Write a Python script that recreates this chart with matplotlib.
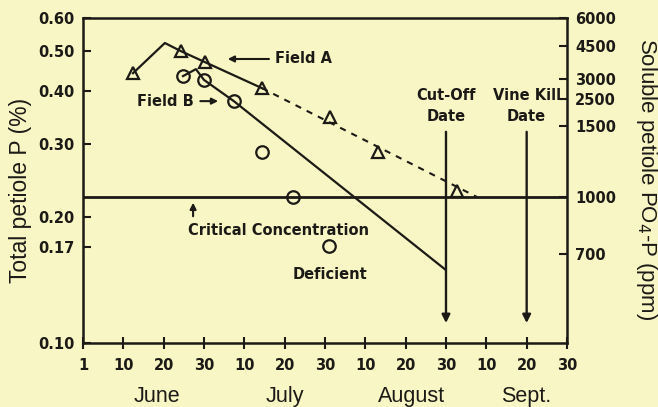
import numpy as np
import matplotlib
matplotlib.use("Agg")
import matplotlib.pyplot as plt

# x is measured in tick steps: 0 = June 1, 1 = June 10, 2 = June 20, 3 = June 30, 4 = July 10 ...
XTICK_LABELS = ["1", "10", "20", "30", "10", "20", "30", "10", "20", "30", "10", "20", "30"]
MONTHS = ["June", "July", "August", "Sept."]
MONTH_POS = [1.83, 5.0, 8.15, 11.0]

# Field A (triangles), total petiole P (%)
a_x = [1.24, 2.43, 3.02, 4.44, 6.12, 7.31, 9.27]
a_y = [0.442, 0.499, 0.470, 0.407, 0.347, 0.286, 0.231]
a_line_x = [1.24, 2.03, 2.43, 3.02, 4.44]
a_line_y = [0.442, 0.522, 0.499, 0.470, 0.407]
a_dash_x = [4.44, 9.77]
a_dash_y = [0.407, 0.2235]

# Field B (circles)
b_x = [2.48, 3.00, 3.74, 4.44, 5.21, 6.10]
b_y = [0.435, 0.426, 0.379, 0.286, 0.2235, 0.171]
b_line_x = [2.48, 2.80, 3.00, 3.74, 8.98]
b_line_y = [0.435, 0.452, 0.426, 0.379, 0.150]

critical = 0.2235
cutoff_x = 9.0
vinekill_x = 11.0

left_ticks = [0.10, 0.17, 0.20, 0.30, 0.40, 0.50, 0.60]
right_labels = ["6000", "4500", "3000", "2500", "1500", "1000", "700"]
right_pos = [0.600, 0.513, 0.428, 0.383, 0.331, 0.2235, 0.163]

BG = "#f8f6c4"
INK = "#1c1a16"
BOLD_FONT = ["DejaVu Sans"]

plt.rcParams.update({"font.family": ["Liberation Sans", "DejaVu Sans"]})

fig = plt.figure(figsize=(6.58, 4.07), dpi=100, facecolor=BG)
ax = fig.add_axes([0.1261, 0.157, 0.7356, 0.7995], facecolor=BG)

ax.set_yscale("log")
ax.set_ylim(0.10, 0.60)
ax.set_xlim(0, 12)

# Field A
ax.plot(a_line_x, a_line_y, "-", color=INK, lw=1.6)
ax.plot(a_dash_x, a_dash_y, "--", color=INK, lw=1.5, dashes=(3, 3))
ax.plot(a_x, a_y, "^", ms=9, mfc="none", mec=INK, mew=1.6)

# Field B
ax.plot(b_line_x, b_line_y, "-", color=INK, lw=1.6)
ax.plot(b_x, b_y, "o", ms=9, mfc="none", mec=INK, mew=1.6)

# critical concentration
ax.axhline(critical, color=INK, lw=2)

# cut-off / vine kill arrows
for xv in (cutoff_x, vinekill_x):
    ax.annotate("", xy=(xv, 0.110), xytext=(xv, 0.325),
                arrowprops=dict(arrowstyle="-|>", color=INK, lw=1.7, mutation_scale=12))

bold = dict(fontsize=10.5, fontweight="bold", color=INK, family=BOLD_FONT)
ax.text(cutoff_x, 0.390, "Cut-Off", ha="center", va="center", **bold)
ax.text(cutoff_x, 0.349, "Date", ha="center", va="center", **bold)
ax.text(vinekill_x, 0.390, "Vine Kill", ha="center", va="center", **bold)
ax.text(vinekill_x, 0.349, "Date", ha="center", va="center", **bold)

ax.text(4.75, 0.478, "Field A", ha="left", va="center", **bold)
ax.annotate("", xy=(3.52, 0.478), xytext=(4.68, 0.478),
            arrowprops=dict(arrowstyle="-|>", color=INK, lw=1.5, mutation_scale=9))
ax.text(1.33, 0.379, "Field B", ha="left", va="center", **bold)
ax.annotate("", xy=(3.42, 0.379), xytext=(2.84, 0.379),
            arrowprops=dict(arrowstyle="-|>", color=INK, lw=1.5, mutation_scale=9))
ax.text(2.6, 0.186, "Critical Concentration", ha="left", va="center", **bold)
ax.annotate("", xy=(2.73, 0.220), xytext=(2.73, 0.198),
            arrowprops=dict(arrowstyle="-|>", color=INK, lw=1.5, mutation_scale=9))
ax.text(5.19, 0.146, "Deficient", ha="left", va="center", **bold)

# axes styling
for s in ax.spines.values():
    s.set_linewidth(1.8)
    s.set_color(INK)

ax.set_xticks(range(13))
ax.set_xticklabels(XTICK_LABELS)
ax.tick_params(axis="x", direction="inout", length=9, width=1.5, pad=6, colors=INK,
               labelsize=10.5)
ax.minorticks_off()
ax.set_yticks(left_ticks)
ax.set_yticklabels([f"{v:.2f}" for v in left_ticks])
ax.tick_params(axis="y", which="both", direction="in", length=6, width=1.5, colors=INK,
               labelsize=10.5, pad=6)
ax.tick_params(axis="y", which="minor", length=0)
for lab in ax.get_xticklabels() + ax.get_yticklabels():
    lab.set_fontweight("bold")
    lab.set_family(BOLD_FONT)

ax.set_ylabel("Total petiole P (%)", fontsize=16.5, color=INK, va="center")
ax.yaxis.set_label_coords(-0.130, 0.47)

for m, xp in zip(MONTHS, MONTH_POS):
    ax.text(xp, -0.163, m, transform=ax.get_xaxis_transform(), ha="center", va="center",
            fontsize=15.5, color=INK)

ax2 = ax.twinx()
ax2.set_yscale("log")
ax2.set_ylim(0.10, 0.60)
ax2.minorticks_off()
ax2.set_yticks(right_pos)
ax2.set_yticklabels(right_labels)
ax2.tick_params(axis="y", which="both", direction="in", length=6, width=1.5, colors=INK,
                labelsize=10.5, pad=6)
ax2.tick_params(axis="y", which="minor", length=0)
for lab in ax2.get_yticklabels():
    lab.set_fontweight("bold")
    lab.set_family(BOLD_FONT)
for s in ax2.spines.values():
    s.set_visible(False)
ax2.set_ylabel("Soluble petiole PO$_4$-P (ppm)", fontsize=16, color=INK, rotation=270,
               va="center")
ax2.yaxis.set_label_coords(1.164, 0.505)

fig.savefig("out.png", dpi=100, facecolor=BG)
